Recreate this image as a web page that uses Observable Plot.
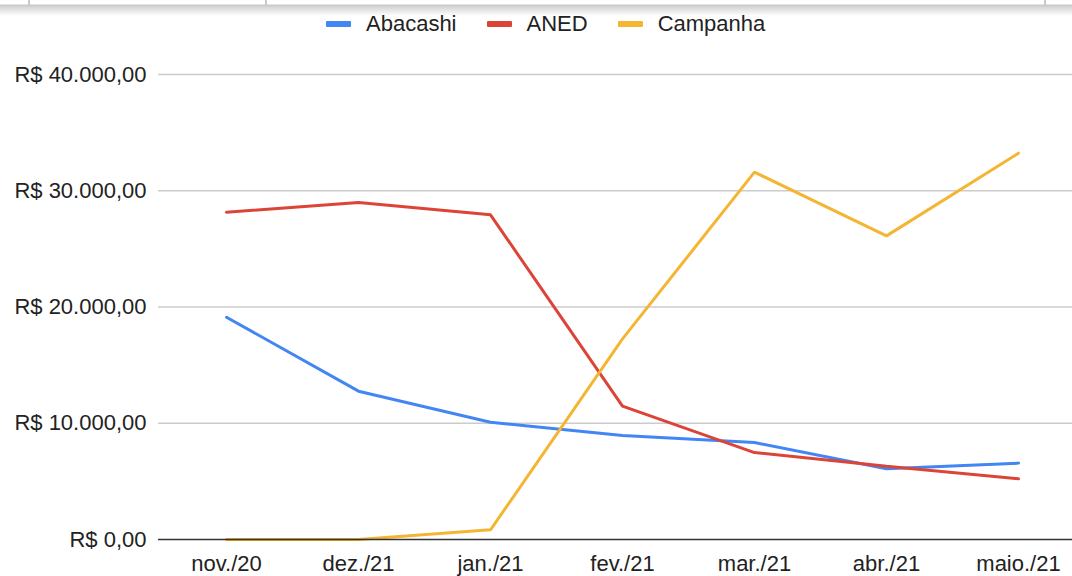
<!DOCTYPE html>
<html>
<head>
<meta charset="utf-8">
<script src="https://cdn.jsdelivr.net/npm/d3@7"></script>
<script src="https://cdn.jsdelivr.net/npm/@observablehq/plot@0.6"></script>
<style>
  html, body { margin: 0; padding: 0; background: #fff; }
  body { width: 1072px; height: 576px; position: relative; overflow: hidden; font-family: "Liberation Sans", Arial, sans-serif; }
  #strip { position: absolute; left: 0; top: 0; width: 1072px; height: 16px;
    background: linear-gradient(to bottom, #fff 0px, #fff 4px, #c8c8c8 5px, #d6d6d6 7px, #f2f2f2 13px, #fff 16px); }
  .sep { position: absolute; top: 0; height: 5px; width: 2px; background: #c8c8c8; }
  #legend { position: absolute; top: 13px; left: 326px; display: flex; align-items: center; font-size: 22px; line-height: 22px; color: #222; }
  .item { display: flex; align-items: center; margin-right: 30px; }
  .sw { width: 25px; height: 6px; margin-right: 15px; border-radius: 1px; }
  #chart { position: absolute; left: 0; top: 0; }
</style>
</head>
<body>
<div id="strip"></div>
<div class="sep" style="left:28px"></div>
<div class="sep" style="left:265px"></div>
<div class="sep" style="left:1044px"></div>
<div id="legend"></div>
<div id="chart"></div>
<script>
const months = ["nov./20", "dez./21", "jan./21", "fev./21", "mar./21", "abr./21", "maio./21"];
const seriesNames = ["Abacashi", "ANED", "Campanha"];
const abacashi = [19120, 12760, 10090, 8950, 8340, 6080, 6570];
const aned = [28160, 28990, 27930, 11470, 7480, 6310, 5220];
const campanha = [0, 0, 830, 17260, 31600, 26120, 33230];
const colors = ["#4285F4", "#DB4437", "#F4B632"];
const yTicks = [0, 10000, 20000, 30000, 40000];

const seriesValues = [abacashi, aned, campanha];
const data = [];
seriesNames.forEach((s, i) => months.forEach((m, j) => data.push({series: s, month: m, value: seriesValues[i][j]})));

const br = d3.formatLocale({decimal: ",", thousands: ".", grouping: [3], currency: ["R$ ", ""]});
const fmt = br.format(",.2f");

const legend = document.getElementById("legend");
seriesNames.forEach((s, i) => {
  const it = document.createElement("div");
  it.className = "item";
  it.innerHTML = `<span class="sw" style="background:${colors[i]}"></span><span>${s}</span>`;
  legend.appendChild(it);
});

const chart = Plot.plot({
  width: 1072,
  height: 576,
  marginTop: 74,
  marginBottom: 37,
  marginLeft: 158,
  marginRight: 0,
  style: {fontFamily: "'Liberation Sans', Arial, sans-serif", fontSize: "22px", color: "#222", background: "transparent"},
  x: {type: "point", domain: months, padding: 0, insetLeft: 67, insetRight: 54, label: null},
  y: {domain: [0, 40000], label: null},
  color: {domain: seriesNames, range: colors},
  marks: [
    Plot.ruleY(yTicks.filter(d => d > 0), {stroke: "#cccccc", strokeWidth: 1.4}),
    Plot.axisY({ticks: yTicks, tickSize: 0, tickPadding: 12, tickFormat: d => "R$ " + fmt(d), fontSize: 22, label: null}),
    Plot.axisX({tickSize: 0, tickPadding: 16, fontSize: 22, label: null}),
    Plot.line(data, {x: "month", y: "value", z: "series", stroke: "series", strokeWidth: 3, strokeLinejoin: "miter"}),
    Plot.ruleY([0], {stroke: "#333333", strokeWidth: 1.5})
  ]
});
document.getElementById("chart").appendChild(chart);
</script>
</body>
</html>
